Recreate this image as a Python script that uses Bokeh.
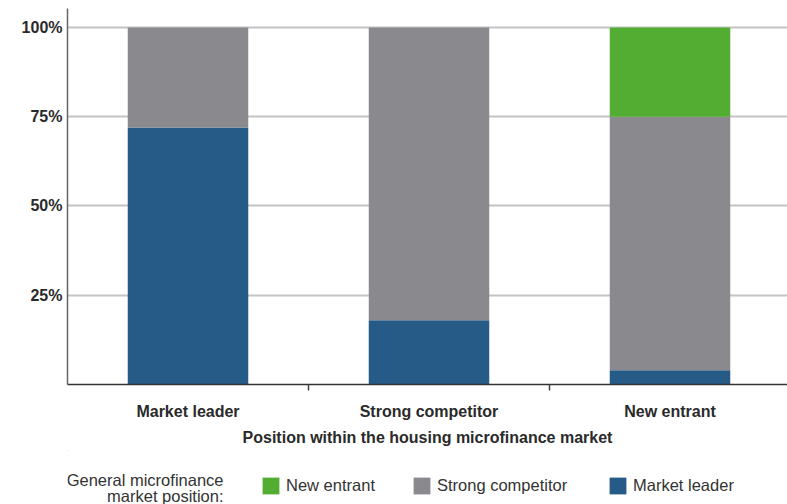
from bokeh.plotting import figure
from bokeh.layouts import column
from bokeh.models import FixedTicker, Legend, LegendItem, Label, Range1d
from bokeh.embed import file_html
from bokeh.resources import INLINE

categories = ["Market leader", "Strong competitor", "New entrant"]
market_leader = [72, 18, 4]
strong_competitor = [28, 82, 71]
new_entrant = [0, 0, 25]
y_ticks = [25, 50, 75, 100]
y_tick_labels = ["25%", "50%", "75%", "100%"]
series_names = ["Market leader", "Strong competitor", "New entrant"]
colors = ["#265a87", "#8a898e", "#52ad32"]
legend_title = ["General microfinance", "market position:"]

FONT = "Liberation Sans"
TXT = "#2a2a2a"

xs = [i + 0.5 for i in range(len(categories))]
data = dict(x=xs, leader=market_leader, strong=strong_competitor, new=new_entrant)

p = figure(width=787, height=450, output_backend="svg", toolbar_location=None,
           x_range=Range1d(0, (787 - 67) / 241), y_range=Range1d(0, 105.3),
           min_border_left=67, min_border_right=0, min_border_top=8,
           min_border_bottom=66)
p.outline_line_color = None

rs = p.vbar_stack(["leader", "strong", "new"], x="x", width=0.5, color=colors,
                  line_color=None, source=data)

# y axis
p.yaxis.ticker = FixedTicker(ticks=y_ticks)
p.yaxis.major_label_overrides = {t: l for t, l in zip(y_ticks, y_tick_labels)}
p.yaxis.major_tick_out = 0
p.yaxis.major_tick_in = 0
p.yaxis.minor_tick_out = 0
p.yaxis.minor_tick_in = 0
p.yaxis.axis_line_color = "#666666"
p.yaxis.axis_line_width = 1.5
p.yaxis.major_label_text_font = FONT
p.yaxis.major_label_text_font_style = "bold"
p.yaxis.major_label_text_font_size = "16px"
p.yaxis.major_label_text_color = TXT
p.yaxis.major_label_standoff = 5

# x axis
p.xaxis.ticker = FixedTicker(ticks=xs, minor_ticks=[1, 2])
p.xaxis.major_label_overrides = {x: c for x, c in zip(xs, categories)}
p.xaxis.major_tick_out = 0
p.xaxis.major_tick_in = 0
p.xaxis.minor_tick_out = 6
p.xaxis.minor_tick_in = 0
p.xaxis.minor_tick_line_color = "#444444"
p.xaxis.minor_tick_line_width = 1.5
p.xaxis.axis_line_color = "#333333"
p.xaxis.axis_line_width = 1.5
p.xaxis.major_label_text_font = FONT
p.xaxis.major_label_text_font_style = "bold"
p.xaxis.major_label_text_font_size = "16px"
p.xaxis.major_label_text_color = TXT
p.xaxis.major_label_standoff = 12
p.xaxis.axis_label = "Position within the housing microfinance market"
p.xaxis.axis_label_text_font = FONT
p.xaxis.axis_label_text_font_style = "bold"
p.xaxis.axis_label_text_font_size = "16px"
p.xaxis.axis_label_text_color = TXT
p.xaxis.axis_label_standoff = 6

p.xgrid.grid_line_color = None
p.ygrid.grid_line_color = "#c4c4c4"
p.ygrid.grid_line_width = 2
p.ygrid.level = "underlay"

# legend strip: frame spans page x 67..787, y 450..504 (top-down)
LEFT = 67
lp = figure(width=787, height=54, output_backend="svg", toolbar_location=None,
            x_range=Range1d(LEFT, 787), y_range=Range1d(504, 450),
            min_border_left=LEFT, min_border_right=0,
            min_border_top=0, min_border_bottom=0)
lp.axis.visible = False
lp.grid.visible = False
lp.outline_line_color = None

legend_x = {"New entrant": 262, "Strong competitor": 413, "Market leader": 609}
for name, c in zip(series_names, colors):
    r = lp.vbar(x=[-5000], top=[1], bottom=[0], width=1, color=c, line_color=None)
    lg = Legend(items=[LegendItem(label=name, renderers=[r])],
                location=(legend_x[name] - 2 - LEFT, 504 - 496), orientation="horizontal",
                padding=0, margin=0, spacing=0, border_line_color=None,
                background_fill_alpha=0, glyph_width=21, glyph_height=21,
                label_height=21, label_standoff=5,
                label_text_font=FONT, label_text_font_size="16.5px",
                label_text_color="#333333", label_text_baseline="middle")
    lp.add_layout(lg, "center")

for txt, yy in zip(legend_title, [479, 495]):
    lp.add_layout(Label(x=223, y=yy, text=txt, text_align="right",
                        text_baseline="middle", text_font=FONT,
                        text_font_size="16.5px", text_color="#333333"))

layout = column(p, lp, spacing=0)
open("out.html", "w").write(file_html(layout, INLINE))
